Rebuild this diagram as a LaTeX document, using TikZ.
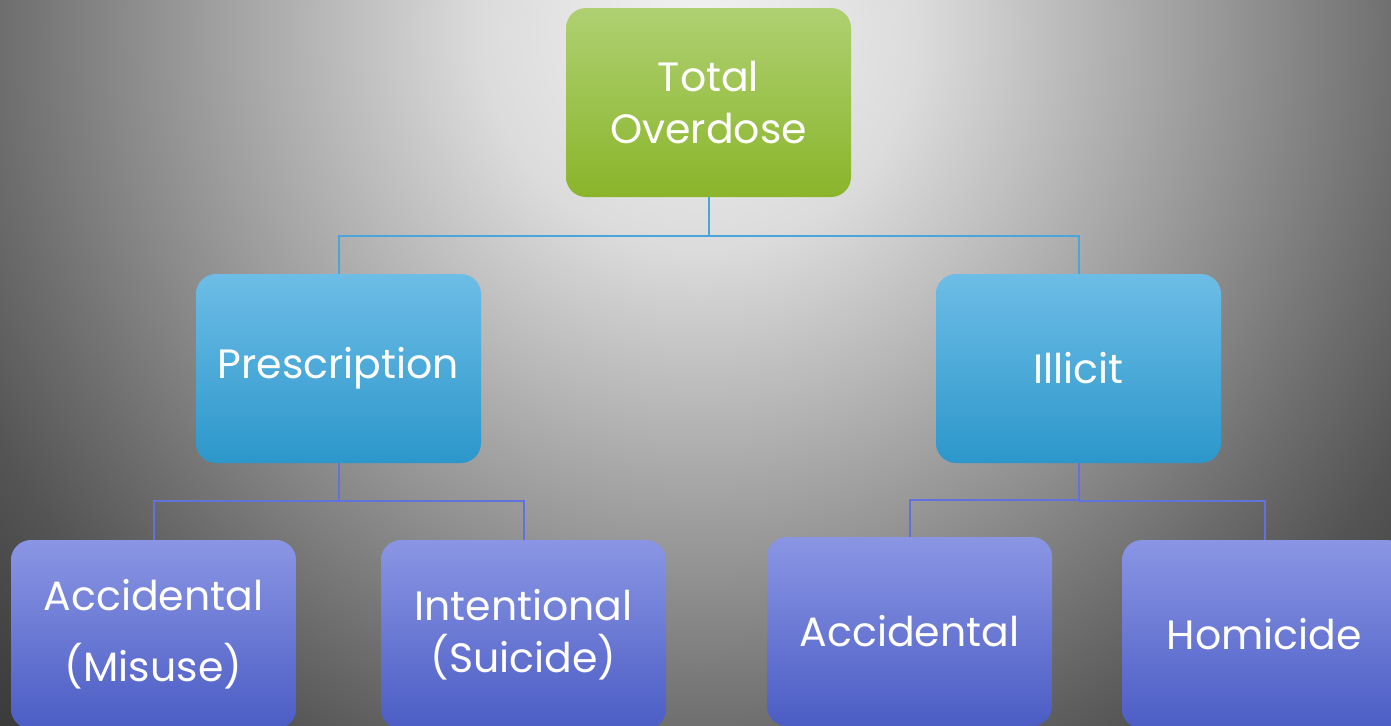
\documentclass[tikz,border=0pt]{standalone}
\usepackage{fontspec}
\setmainfont{Poppins}
\definecolor{bgA}{gray}{0.95}
\definecolor{bgB}{gray}{0.86}
\definecolor{bgC}{gray}{0.62}
\definecolor{bgD}{gray}{0.43}
\definecolor{bgE}{gray}{0.33}
\definecolor{bgF}{gray}{0.22}
\definecolor{greentop}{HTML}{AFD072}
\definecolor{greenbot}{HTML}{8AB52A}
\definecolor{bluetop}{HTML}{6DBDE6}
\definecolor{bluebot}{HTML}{2C97CB}
\definecolor{purpletop}{HTML}{8A96E4}
\definecolor{purplebot}{HTML}{4B5CC4}
\definecolor{linkblue}{HTML}{4AA6DA}
\definecolor{linkpurple}{HTML}{6272DC}
\pgfdeclareradialshading{glow}{\pgfpointorigin}{color(0bp)=(bgA); color(5.5bp)=(bgB); color(12.25bp)=(bgC); color(17.5bp)=(bgD); color(20.4bp)=(bgE); color(25bp)=(bgF); color(50bp)=(bgF)}
\tikzstyle{chartbox}=[rounded corners=10pt, minimum width=142.5pt, minimum height=94.5pt, inner sep=0pt, text=white, align=center, font=\fontsize{20.5}{26}\selectfont]
\tikzstyle{greenbox}=[chartbox, top color=greentop, bottom color=greenbot]
\tikzstyle{bluebox}=[chartbox, top color=bluetop, bottom color=bluebot]
\tikzstyle{purplebox}=[chartbox, top color=purpletop, bottom color=purplebot]
\tikzstyle{toplink}=[draw=linkblue, line width=1pt]
\tikzstyle{lowlink}=[draw=linkpurple, line width=1pt]
\begin{document}
\begin{tikzpicture}[x=0.5pt,y=-0.5pt]
	\useasboundingbox (0,0) rectangle (1391,725);
	\clip (0,0) rectangle (1391,725);
	\shade[shading=glow] (700,30) circle (1000);
	% boxes
	\node[greenbox] (total) at (708.5,102.5) {Total\\Overdose};
	\node[bluebox] (presc) at (338.5,368.5) {Prescription};
	\node[bluebox] (illicit) at (1078.5,368.5) {Illicit};
	\node[purplebox] (misuse) at (153.5,634.5) {Accidental\\[9.5pt](Misuse)};
	\node[purplebox] (suicide) at (523.5,634.5) {Intentional\\(Suicide)};
	\node[purplebox] (accid) at (909.5,631.5) {Accidental};
	\node[purplebox] (homic) at (1264.5,634.5) {Homicide};
	% links
	\draw[toplink] (total.south) -- ++(0,39) -| (presc.north);
	\draw[toplink] (total.south) -- ++(0,39) -| (illicit.north);
	\draw[lowlink] (presc.south) -- ++(0,38) -| (misuse.north);
	\draw[lowlink] (presc.south) -- ++(0,38) -| (suicide.north);
	\draw[lowlink] (illicit.south) -- ++(0,37) -| (accid.north);
	\draw[lowlink] (illicit.south) -- ++(0,38) -| (homic.north);
\end{tikzpicture}
\end{document}
